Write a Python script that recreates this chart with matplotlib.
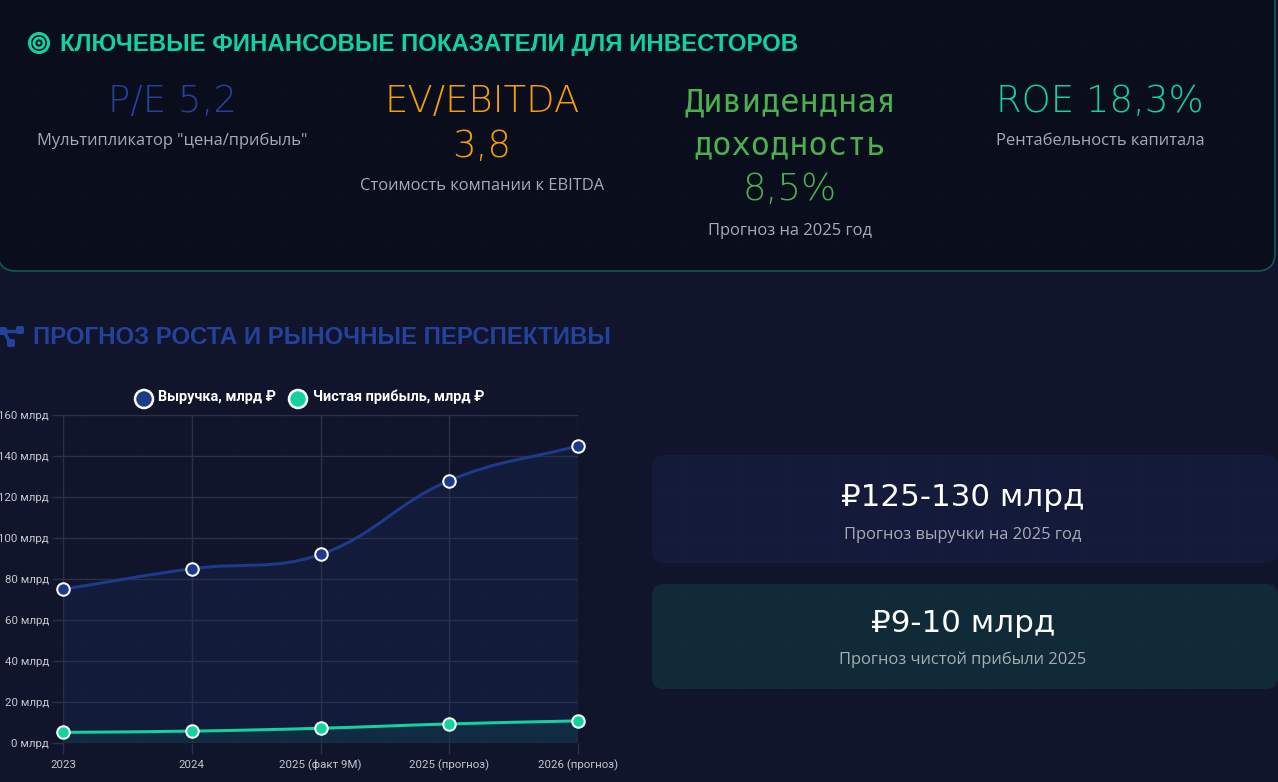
import numpy as np
import matplotlib
matplotlib.use("Agg")
import matplotlib.pyplot as plt
from matplotlib.patches import FancyBboxPatch, Circle, PathPatch
from matplotlib.path import Path

# ---------------- data ----------------
categories = ["2023", "2024", "2025 (факт 9M)", "2025 (прогноз)", "2026 (прогноз)"]
revenue = [75, 85, 92, 128, 145]
net_profit = [5.2, 5.8, 7.2, 9.3, 10.8]
y_ticks = [0, 20, 40, 60, 80, 100, 120, 140, 160]
y_tick_labels = [f"{v} млрд" for v in y_ticks]
series_names = ["Выручка, млрд ₽", "Чистая прибыль, млрд ₽"]

main_title = "КЛЮЧЕВЫЕ ФИНАНСОВЫЕ ПОКАЗАТЕЛИ ДЛЯ ИНВЕСТОРОВ"
section_title = "ПРОГНОЗ РОСТА И РЫНОЧНЫЕ ПЕРСПЕКТИВЫ"
metric_values = [["P/E 5,2"], ["EV/EBITDA", "3,8"], ["Дивидендная", "доходность", "8,5%"], ["ROE 18,3%"]]
metric_notes = ['Мультипликатор "цена/прибыль"', "Стоимость компании к EBITDA",
                "Прогноз на 2025 год", "Рентабельность капитала"]
card_values = ["₽125-130 млрд", "₽9-10 млрд"]
card_notes = ["Прогноз выручки на 2025 год", "Прогноз чистой прибыли 2025"]

# ---------------- style ----------------
W, H = 1278, 782
BG = "#10152b"
CARD_BG = "#0a0d1b"
TEAL = "#10d3a0"
BLUE = "#1e3a8a"
BLUE_T = "#24419c"
ORANGE = "#f59e0b"
GREEN = "#4caf50"
GRAY = "#a9abb3"
GRID = "#2a3048"
PX = 72.0 / 100.0  # px -> pt

fig = plt.figure(figsize=(W / 100, H / 100), dpi=100, facecolor=BG)
bg = fig.add_axes([0, 0, 1, 1])
bg.set_xlim(0, W)
bg.set_ylim(H, 0)
bg.axis("off")
bg.set_zorder(0)

# faint background grid
for gx in range(37, W, 50):
    bg.plot([gx, gx], [0, H], color="#ffffff", alpha=0.012, lw=1)
for gy in range(43, H, 50):
    bg.plot([0, W], [gy, gy], color="#ffffff", alpha=0.012, lw=1)

# top card
bg.add_patch(FancyBboxPatch((-2, -20), 1277, 291, boxstyle="round,pad=0,rounding_size=18",
                            facecolor=CARD_BG, edgecolor="#0f5a4f", lw=1.2, zorder=1))

NOTE_FONT = ["Open Sans", "DejaVu Sans"]
HEAD_FONT = ["Liberation Sans", "DejaVu Sans"]
DISP_FONT = ["DejaVu Sans", "Roboto"]


def T(x, y, s, size_px, color, ha="center", weight="normal", family=None, **kw):
    fam = family if family else ["Roboto", "DejaVu Sans"]
    bg.text(x, y, s, fontsize=size_px * PX, color=color, ha=ha, va="center",
            fontweight=weight, family=fam, zorder=5, **kw)


# title icon (concentric circles)
bg.add_patch(Circle((39, 43), 9.5, facecolor="none", edgecolor=TEAL, lw=2.2, zorder=5))
bg.add_patch(Circle((39, 43), 5.0, facecolor="none", edgecolor=TEAL, lw=2.0, zorder=5))
bg.add_patch(Circle((39, 43), 1.6, facecolor=TEAL, edgecolor="none", zorder=5))
T(60, 44, main_title, 24, TEAL, ha="left", weight="bold", family=HEAD_FONT)

# metrics
mx = [172, 482, 790, 1100]
colors = [BLUE_T, ORANGE, GREEN, TEAL]
T(mx[0], 101, metric_values[0][0], 37, colors[0], family=DISP_FONT, weight="light")
T(mx[0], 141, metric_notes[0], 16.5, GRAY, family=NOTE_FONT)
T(mx[1], 101, metric_values[1][0], 37, colors[1], family=DISP_FONT, weight="light")
T(mx[1], 146, metric_values[1][1], 37, colors[1], family=DISP_FONT, weight="light")
T(mx[1], 186, metric_notes[1], 16.5, GRAY, family=NOTE_FONT)
T(mx[2], 103, metric_values[2][0], 32, colors[2], family=["DejaVu Sans Mono"])
T(mx[2], 146, metric_values[2][1], 32, colors[2], family=["DejaVu Sans Mono"])
T(mx[2], 189, metric_values[2][2], 37, colors[2], family=DISP_FONT, weight="light")
T(mx[2], 231, metric_notes[2], 16.5, GRAY, family=NOTE_FONT)
T(mx[3], 101, metric_values[3][0], 37, colors[3], family=DISP_FONT, weight="light")
T(mx[3], 141, metric_notes[3], 16.5, GRAY, family=NOTE_FONT)

# section icon (network)
for (a, b) in [((4, 331), (20, 331)), ((4, 331), (10, 343))]:
    bg.plot([a[0], b[0]], [a[1], b[1]], color=BLUE_T, lw=2.5, zorder=5)
for (cx, cy, s) in [(3, 331, 8), (20, 330, 8), (11, 343, 8)]:
    bg.add_patch(FancyBboxPatch((cx - s / 2, cy - s / 2), s, s, boxstyle="round,pad=0,rounding_size=2",
                                facecolor=BLUE_T, edgecolor="none", zorder=6))
T(33, 338, section_title, 24, BLUE_T, ha="left", weight="bold", family=HEAD_FONT)

# right cards
bg.add_patch(FancyBboxPatch((652, 455), 626, 108, boxstyle="round,pad=0,rounding_size=12",
                            facecolor="#131a3a", edgecolor="none", zorder=1))
bg.add_patch(FancyBboxPatch((652, 584), 626, 105, boxstyle="round,pad=0,rounding_size=12",
                            facecolor="#112a38", edgecolor="none", zorder=1))
T(963, 497, card_values[0], 31, "white", family=DISP_FONT)
T(963, 535, card_notes[0], 16.5, GRAY, family=NOTE_FONT)
T(963, 624, card_values[1], 31, "white", family=DISP_FONT)
T(963, 660, card_notes[1], 16.5, GRAY, family=NOTE_FONT)

# legend
leg_col = [BLUE, "#12d3a0"]
bg.add_patch(Circle((144, 399), 9, facecolor=leg_col[0], edgecolor="white", lw=1.8, zorder=6))
T(158, 397, series_names[0], 14.5, "white", ha="left", weight="bold")
bg.add_patch(Circle((298, 399), 9, facecolor=leg_col[1], edgecolor="white", lw=1.8, zorder=6))
T(313, 397, series_names[1], 14.5, "white", ha="left", weight="bold")

# ---------------- chart ----------------
L, R, TOP, BOT = 63, 578, 415, 743
ax = fig.add_axes([L / W, (H - BOT) / H, (R - L) / W, (BOT - TOP) / H])
ax.set_zorder(2)
ax.patch.set_alpha(0)
x = np.arange(len(categories))
ax.set_xlim(0, len(categories) - 1)
ax.set_ylim(0, 160)
ax.set_yticks(y_ticks)
ax.set_yticklabels(y_tick_labels)
ax.set_xticks(x)
ax.set_xticklabels(categories)
for sp in ax.spines.values():
    sp.set_visible(False)
ax.grid(True, color=GRID, lw=1)
ax.tick_params(axis="both", colors=GRID, length=8, width=1, labelcolor="#c3c6cf",
               labelsize=11.5 * PX)
for lab in ax.get_xticklabels() + ax.get_yticklabels():
    lab.set_family(["Roboto", "DejaVu Sans"])
ax.tick_params(axis="y", pad=2)
ax.tick_params(axis="x", pad=4)


def smooth(xs, ys, t=0.4):
    pts = ax.transData.transform(np.column_stack([xs, ys]).astype(float))
    n = len(pts)
    cpp, cpn = [], []
    for i in range(n):
        p, c, q = pts[max(i - 1, 0)], pts[i], pts[min(i + 1, n - 1)]
        d01 = np.hypot(*(c - p))
        d12 = np.hypot(*(q - c))
        tot = d01 + d12
        s01 = d01 / tot if tot else 0
        s12 = d12 / tot if tot else 0
        cpp.append(c - t * s01 * (q - p))
        cpn.append(c + t * s12 * (q - p))
    verts = [pts[0]]
    codes = [Path.MOVETO]
    for i in range(n - 1):
        verts += [cpn[i], cpp[i + 1], pts[i + 1]]
        codes += [Path.CURVE4] * 3
    inv = ax.transData.inverted()
    return inv.transform(np.array(verts)), codes


fill_cols = [(0.12, 0.23, 0.54, 0.16), (0.06, 0.83, 0.63, 0.09)]
for ys, col, fcol in [(revenue, leg_col[0], fill_cols[0]), (net_profit, leg_col[1], fill_cols[1])]:
    v, c = smooth(x, ys)
    fv = np.vstack([v, [[x[-1], 0], [x[0], 0], [x[0], ys[0]]]])
    fc = c + [Path.LINETO, Path.LINETO, Path.CLOSEPOLY]
    ax.add_patch(PathPatch(Path(fv, fc), facecolor=fcol, edgecolor="none", zorder=1))
    ax.add_patch(PathPatch(Path(v, c), facecolor="none", edgecolor=col, lw=3 * PX, zorder=3))
    ax.plot(x, ys, "o", ms=12.5 * PX, mfc=col, mec="white", mew=2 * PX, zorder=4, clip_on=False)

fig.savefig("out.png", dpi=100, facecolor=BG)
